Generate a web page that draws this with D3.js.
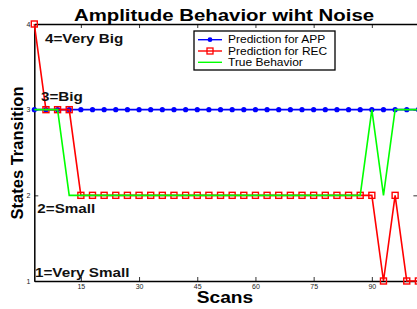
<!DOCTYPE html>
<html>
<head>
<meta charset="utf-8">
<script src="https://cdn.jsdelivr.net/npm/d3@7"></script>
<style>
  body { margin: 0; background: #fff; }
  svg { display: block; font-family: "Liberation Sans", Arial, sans-serif; }
</style>
</head>
<body>
<svg width="417" height="309"></svg>
<script>
// data (one point every 3 scans)
var scans = [3, 6, 9, 12, 15, 18, 21, 24, 27, 30, 33, 36, 39, 42, 45, 48, 51,
             54, 57, 60, 63, 66, 69, 72, 75, 78, 81, 84, 87, 90, 93, 96, 99, 102];
var app   = [3, 3, 3, 3, 3, 3, 3, 3, 3, 3, 3, 3, 3, 3, 3, 3, 3,
             3, 3, 3, 3, 3, 3, 3, 3, 3, 3, 3, 3, 3, 3, 3, 3, 3];
var rec   = [4, 3, 3, 3, 2, 2, 2, 2, 2, 2, 2, 2, 2, 2, 2, 2, 2,
             2, 2, 2, 2, 2, 2, 2, 2, 2, 2, 2, 2, 2, 1, 2, 1, 1];
var truth = [3, 3, 3, 2, 2, 2, 2, 2, 2, 2, 2, 2, 2, 2, 2, 2, 2,
             2, 2, 2, 2, 2, 2, 2, 2, 2, 2, 2, 2, 3, 2, 3, 3, 3];
var xTicks = [15, 30, 45, 60, 75, 90];
var yTicks = [1, 2, 3, 4];
var stateLabels = ["1=Very Small", "2=Small", "3=Big", "4=Very Big"];
var seriesNames = ["Prediction for APP", "Prediction for REC", "True Behavior"];

var svg = d3.select("svg"),
    sx = 1.2,   // whole figure looks stretched sideways
    plot = {left: 34.3, top: 24, right: 418.4, bottom: 281};

var x = d3.scaleLinear().domain([3, 102]).range([plot.left, plot.right]);
var y = d3.scaleLinear().domain([1, 4]).range([plot.bottom, plot.top]);

svg.append("rect").attr("width", 417).attr("height", 309).attr("fill", "#fff");

// axes, matlab style: ticks point inwards, box all round
function styleAxis(g) {
    g.select(".domain").attr("stroke", "#000").attr("stroke-width", 1.5);
    g.selectAll(".tick line").attr("stroke", "#000").attr("stroke-width", 0.8);
    g.selectAll(".tick text").attr("font-size", 7).attr("fill", "#222")
        .attr("font-family", "'Liberation Sans', Arial, sans-serif");
}

svg.append("g")
    .attr("transform", "translate(0," + plot.bottom + ")")
    .call(d3.axisBottom(x).tickValues(xTicks).tickSizeInner(-4).tickSizeOuter(0).tickPadding(3))
    .call(styleAxis);

svg.append("g")
    .attr("transform", "translate(0," + plot.top + ")")
    .call(d3.axisTop(x).tickValues(xTicks).tickSizeInner(-4).tickSizeOuter(0).tickFormat(""))
    .call(styleAxis);

svg.append("g")
    .attr("transform", "translate(" + plot.left + ",0)")
    .call(d3.axisLeft(y).tickValues(yTicks).tickSizeInner(-4).tickSizeOuter(0).tickPadding(4).tickFormat(d3.format("d")))
    .call(styleAxis);

svg.append("g")
    .attr("transform", "translate(" + plot.right + ",0)")
    .call(d3.axisRight(y).tickValues(yTicks).tickSizeInner(-5).tickSizeOuter(0).tickFormat(""))
    .call(styleAxis);

// series
var line = d3.line()
    .x(function(d, i) { return x(scans[i]); })
    .y(function(d) { return y(d); });

svg.append("path").datum(app)
    .attr("fill", "none").attr("stroke", "#0000ff").attr("stroke-width", 1.6)
    .attr("d", line);
svg.append("g").selectAll("circle")
    .data(app).enter().append("circle")
    .attr("cx", function(d, i) { return x(scans[i]); })
    .attr("cy", function(d) { return y(d); })
    .attr("r", 2.6)
    .attr("fill", "#0000ff");

svg.append("path").datum(rec)
    .attr("fill", "none").attr("stroke", "#ff0000").attr("stroke-width", 1.6)
    .attr("d", line);
svg.append("g").selectAll("rect")
    .data(rec).enter().append("rect")
    .attr("x", function(d, i) { return x(scans[i]) - 3; })
    .attr("y", function(d) { return y(d) - 3; })
    .attr("width", 6).attr("height", 6)
    .attr("fill", "none").attr("stroke", "#ff0000").attr("stroke-width", 1.4);

svg.append("path").datum(truth)
    .attr("fill", "none").attr("stroke", "#00ff00").attr("stroke-width", 1.6)
    .attr("d", line);

// state annotations
var annotPos = [[35, 277.3], [37.3, 212.7], [41, 101], [45, 43]];
svg.append("g").selectAll("text")
    .data(stateLabels).enter().append("text")
    .attr("transform", function(d, i) {
        return "translate(" + annotPos[i][0] + "," + annotPos[i][1] + ") scale(" + sx + ",1)";
    })
    .attr("font-size", 12.7).attr("font-weight", "bold").attr("fill", "#111")
    .text(function(d) { return d; });

// titles
svg.append("text")
    .attr("transform", "translate(224,20.5) scale(" + sx + ",1)")
    .attr("text-anchor", "middle").attr("font-size", 17).attr("font-weight", "bold")
    .text("Amplitude Behavior wiht Noise");

svg.append("text")
    .attr("transform", "translate(225,303) scale(" + sx + ",1)")
    .attr("text-anchor", "middle").attr("font-size", 16).attr("font-weight", "bold")
    .text("Scans");

svg.append("text")
    .attr("transform", "translate(22.5,153) rotate(-90)")
    .attr("text-anchor", "middle").attr("font-size", 16.5).attr("font-weight", "bold")
    .text("States Transition");

// legend
var legend = svg.append("g").attr("transform", "translate(194,31)");
legend.append("rect")
    .attr("width", 141).attr("height", 39)
    .attr("fill", "#fff").attr("stroke", "#000").attr("stroke-width", 1.3);

var colors = ["#0000ff", "#ff0000", "#00ff00"];
var item = legend.selectAll("g.item")
    .data(seriesNames).enter().append("g")
    .attr("class", "item")
    .attr("transform", function(d, i) { return "translate(0," + (8.7 + i * 11.3) + ")"; });

item.append("line")
    .attr("x1", 4).attr("x2", 28)
    .attr("stroke", function(d, i) { return colors[i]; })
    .attr("stroke-width", 1.4);

item.filter(function(d, i) { return i === 0; }).append("circle")
    .attr("cx", 16).attr("r", 2.4).attr("fill", colors[0]);
item.filter(function(d, i) { return i === 1; }).append("rect")
    .attr("x", 13).attr("y", -3).attr("width", 6).attr("height", 6)
    .attr("fill", "none").attr("stroke", colors[1]).attr("stroke-width", 1.3);

item.append("text")
    .attr("transform", "translate(34,0) scale(" + sx + ",1)")
    .attr("dy", "0.35em").attr("font-size", 10)
    .text(function(d) { return d; });
</script>
</body>
</html>
